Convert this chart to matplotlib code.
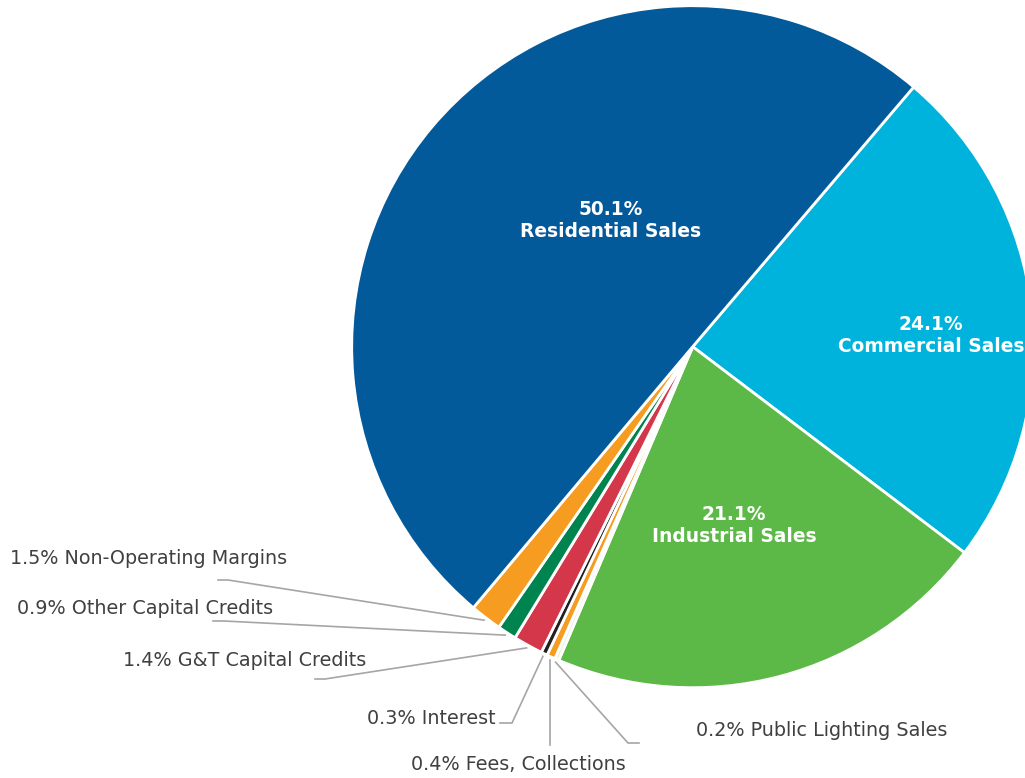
import numpy as np
import matplotlib
matplotlib.use("Agg")
import matplotlib.pyplot as plt

# ---- data ----
names = ["Commercial Sales", "Industrial Sales", "Public Lighting Sales", "Fees, Collections",
         "Interest", "G&T Capital Credits", "Other Capital Credits", "Non-Operating Margins",
         "Residential Sales"]
values = [24.1, 21.1, 0.2, 0.4, 0.3, 1.4, 0.9, 1.5, 50.1]
colors = ["#00B3DC", "#5CB947", "#F3EEDC", "#F59C21", "#231F20", "#D4374A", "#00844F",
          "#F59C21", "#035A9B"]

W, H = 1025, 778
fig = plt.figure(figsize=(W / 100, H / 100), dpi=100)
ax = fig.add_axes([0, 0, 1, 1])

cx, cy_px, R = 692.7, 346.7, 341
def P(x, y):
    return x, H - y

wedges, _ = ax.pie(values, colors=colors, startangle=49.6, counterclock=False,
                   center=P(cx, cy_px), radius=R,
                   wedgeprops=dict(edgecolor="white", linewidth=2.0), frame=True)
ax.set_xlim(0, W)
ax.set_ylim(0, H)
ax.set_aspect("auto")
ax.axis("off")

# inner labels (pixel positions)
inner_pos = {"Residential Sales": (611, 220), "Commercial Sales": (931, 335),
             "Industrial Sales": (734, 526)}
for n, v in zip(names, values):
    if n in inner_pos:
        x, y = inner_pos[n]
        ax.text(*P(x, y), f"{v}%\n{n}", color="white", fontsize=13.4, fontweight="bold",
                ha="center", va="center", linespacing=1.2)

# outer labels with leader lines
outer = {
    "Non-Operating Margins": dict(text=(10, 559), ha="left", path=[(228, 580), (218, 580)]),
    "Other Capital Credits": dict(text=(17, 609), ha="left", path=[(224, 621), (213, 621)]),
    "G&T Capital Credits": dict(text=(123, 660), ha="left", path=[(325, 679), (315, 679)]),
    "Interest": dict(text=(496, 718), ha="right", path=[(512, 723), (500, 723)]),
    "Fees, Collections": dict(text=(411, 764), ha="left", path=[None]),
    "Public Lighting Sales": dict(text=(696, 730), ha="left", path=[(628, 743), (639, 743)]),
}
for w, n, v in zip(wedges, names, values):
    if n not in outer:
        continue
    o = outer[n]
    th = np.deg2rad((w.theta1 + w.theta2) / 2)
    ax_x = w.center[0] + (R + 3) * np.cos(th)
    ax_y = w.center[1] + (R + 3) * np.sin(th)
    pts = [(ax_x, ax_y)]
    for p in o["path"]:
        if p is None:
            pts.append((ax_x, H - 745))
        else:
            pts.append(P(*p))
    xs, ys = zip(*pts)
    ax.plot(xs, ys, color="#A6A6A6", linewidth=1.2, solid_joinstyle="miter")
    ax.text(*P(*o["text"]), f"{v}% {n}", color="#404040", fontsize=13.8,
            ha=o["ha"], va="center")

fig.savefig("out.png", dpi=100)
